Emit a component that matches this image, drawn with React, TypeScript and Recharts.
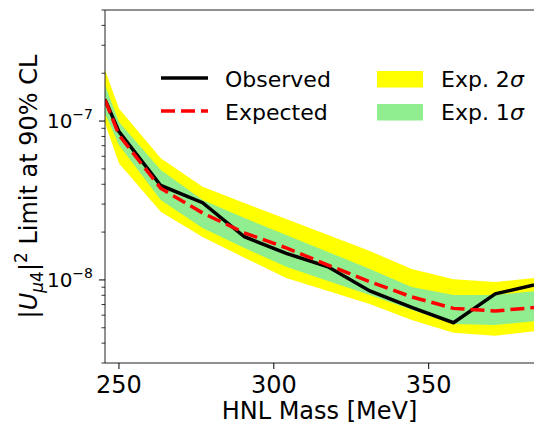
import { ComposedChart, Area, Line, XAxis, YAxis, ReferenceLine } from 'recharts'

// HNL mass points [MeV]
const mass = [245.5, 250, 263.5, 277, 290.5, 304, 317.5, 331, 344.5, 358, 371.5, 384]

// |U_mu4|^2 limits at 90% CL
const observed = [1.37e-7, 8.57e-8, 3.93e-8, 3.06e-8, 1.87e-8, 1.47e-8, 1.21e-8, 8.53e-9, 6.71e-9, 5.38e-9, 8.17e-9, 9.3e-9]
const expected = [1.36e-7, 8.17e-8, 3.77e-8, 2.64e-8, 1.98e-8, 1.59e-8, 1.24e-8, 9.75e-9, 7.82e-9, 6.62e-9, 6.38e-9, 6.7e-9]
const oneSigUp = [1.68e-7, 9.86e-8, 4.92e-8, 3.19e-8, 2.45e-8, 1.92e-8, 1.5e-8, 1.17e-8, 9.04e-9, 8.05e-9, 8.05e-9, 8.5e-9]
const oneSigDown = [1.12e-7, 7.06e-8, 3.19e-8, 2.12e-8, 1.59e-8, 1.21e-8, 9.86e-9, 8.05e-9, 6.48e-9, 5.28e-9, 5.21e-9, 5.5e-9]
const twoSigUp = [2.1e-7, 1.2e-7, 5.83e-8, 3.86e-8, 3.05e-8, 2.42e-8, 1.92e-8, 1.52e-8, 1.17e-8, 1.01e-8, 9.7e-9, 1.03e-8]
const twoSigDown = [9.7e-8, 5.42e-8, 2.69e-8, 1.86e-8, 1.38e-8, 1.03e-8, 8.53e-9, 7.06e-9, 5.6e-9, 4.65e-9, 4.45e-9, 4.75e-9]

const xTicks = [250, 300, 350]
const yTicks = [
  3e-9, 4e-9, 5e-9, 6e-9, 7e-9, 8e-9, 9e-9, 1e-8,
  2e-8, 3e-8, 4e-8, 5e-8, 6e-8, 7e-8, 8e-8, 9e-8, 1e-7,
  2e-7, 3e-7, 4e-7, 5e-7,
]
const yMajor = [1e-8, 1e-7]
const yMajorExp = ['\u22128', '\u22127']

const legendLines = [
  { label: 'Observed', color: '#000000', dash: undefined },
  { label: 'Expected', color: '#ff0000', dash: '14 6' },
]
const legendBands = [
  { label: 'Exp. 2', color: '#ffff00' },
  { label: 'Exp. 1', color: '#90ee90' },
]

const data = mass.map((m, i) => ({
  mass: m,
  observed: observed[i],
  expected: expected[i],
  band1: [oneSigDown[i], oneSigUp[i]],
  band2: [twoSigDown[i], twoSigUp[i]],
}))

const FONT = '"DejaVu Sans", sans-serif'

function YTick(props: any) {
  const { x, y, payload } = props
  const k = yMajor.indexOf(payload.value)
  if (k < 0) {
    return <line x1={x - 3.5} x2={x} y1={y} y2={y} stroke="#000" strokeWidth={0.8} />
  }
  return (
    <g>
      <line x1={x - 6} x2={x} y1={y} y2={y} stroke="#000" strokeWidth={1} />
      <text x={x - 12} y={y + 7} textAnchor="end" fontFamily={FONT} fontSize={20} fill="#000">
        10
        <tspan dy={-9} fontSize={14}>{yMajorExp[k]}</tspan>
      </text>
    </g>
  )
}

function XTick(props: any) {
  const { x, y, payload } = props
  return (
    <g>
      <line x1={x} x2={x} y1={y} y2={y + 6} stroke="#000" strokeWidth={1} />
      <text x={x} y={y + 30} textAnchor="middle" fontFamily={FONT} fontSize={24} fill="#000">
        {payload.value}
      </text>
    </g>
  )
}

function XLabel(props: any) {
  const { viewBox } = props
  return (
    <text
      x={viewBox.x + viewBox.width / 2}
      y={viewBox.y + 56}
      textAnchor="middle"
      fontFamily={FONT}
      fontSize={24}
      fill="#000"
    >
      HNL Mass [MeV]
    </text>
  )
}

function YLabel(props: any) {
  const { viewBox } = props
  const cy = viewBox.y + viewBox.height / 2
  return (
    <text
      transform={`translate(37, ${cy}) rotate(-90)`}
      textAnchor="middle"
      fontFamily={FONT}
      fontSize={24}
      fill="#000"
    >
      |<tspan fontStyle="italic">U</tspan>
      <tspan dy={6} fontSize={17} fontStyle="italic">μ</tspan>
      <tspan fontSize={17}>4</tspan>
      <tspan dy={-6}>|</tspan>
      <tspan dy={-10} fontSize={17}>2</tspan>
      <tspan dy={10}> Limit at 90% CL</tspan>
    </text>
  )
}

function ChartLegend() {
  return (
    <g fontFamily={FONT} fontSize={22} fill="#000">
      {legendLines.map((l, i) => (
        <g key={l.label}>
          <line x1={161} x2={208} y1={78 + i * 33} y2={78 + i * 33} stroke={l.color} strokeWidth={3.5} strokeDasharray={l.dash} />
          <text x={225} y={87 + i * 33}>{l.label}</text>
        </g>
      ))}
      {legendBands.map((b, i) => (
        <g key={b.label}>
          <rect x={377} y={71 + i * 33} width={46} height={16.5} fill={b.color} />
          <text x={441} y={87 + i * 33}>
            {b.label}
            <tspan fontStyle="italic">σ</tspan>
          </text>
        </g>
      ))}
    </g>
  )
}

export default function App() {
  return (
    <div style={{ position: 'absolute', left: 0, top: 0, width: 534, height: 425, background: '#fff' }}>
      <ComposedChart width={534} height={425} data={data} margin={{ top: 10, right: 0, bottom: 0, left: 0 }}>
        <XAxis
          dataKey="mass"
          type="number"
          domain={[245.5, 384]}
          allowDataOverflow
          ticks={xTicks}
          tick={<XTick />}
          tickSize={0}
          tickMargin={0}
          tickLine={false}
          height={62}
          axisLine={{ stroke: '#222', strokeWidth: 1 }}
          label={<XLabel />}
        />
        <YAxis
          scale="log"
          type="number"
          domain={[3e-9, 5e-7]}
          allowDataOverflow
          ticks={yTicks}
          interval={0}
          tick={<YTick />}
          tickSize={0}
          tickMargin={0}
          tickLine={false}
          width={105}
          axisLine={{ stroke: '#222', strokeWidth: 1 }}
          label={<YLabel />}
        />
        <ReferenceLine y={5e-7} stroke="#222" strokeWidth={1} />
        <Area dataKey="band2" type="linear" fill="#ffff00" fillOpacity={1} stroke="none" isAnimationActive={false} />
        <Area dataKey="band1" type="linear" fill="#90ee90" fillOpacity={1} stroke="none" isAnimationActive={false} />
        <Line dataKey="observed" type="linear" stroke="#000" strokeWidth={3.5} dot={false} isAnimationActive={false} />
        <Line dataKey="expected" type="linear" stroke="#ff0000" strokeWidth={3.5} strokeDasharray="14 6" dot={false} isAnimationActive={false} />
        <ChartLegend />
      </ComposedChart>
    </div>
  )
}
